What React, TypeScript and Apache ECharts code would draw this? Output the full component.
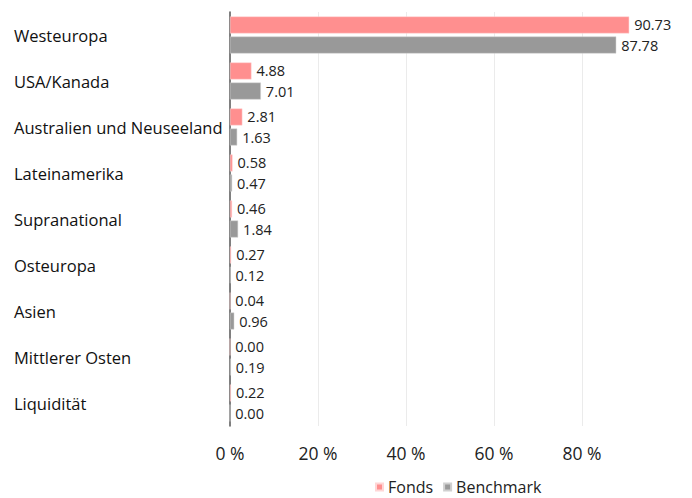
import React, { useEffect, useRef } from "react";
import * as echarts from "echarts";

const categories = [
  "Westeuropa",
  "USA/Kanada",
  "Australien und Neuseeland",
  "Lateinamerika",
  "Supranational",
  "Osteuropa",
  "Asien",
  "Mittlerer Osten",
  "Liquidität",
];
const fonds = [90.73, 4.88, 2.81, 0.58, 0.46, 0.27, 0.04, 0.0, 0.22];
const benchmark = [87.78, 7.01, 1.63, 0.47, 1.84, 0.12, 0.96, 0.19, 0.0];
const xTicks = [0, 20, 40, 60, 80, 100];

export default function App() {
  const ref = useRef<HTMLDivElement>(null);
  useEffect(() => {
    document.body.style.margin = "0";
    if (!ref.current) return;
    const chart = echarts.init(ref.current, null, { renderer: "svg" });
    const font = "'Open Sans', 'Noto Sans', sans-serif";
    const label = {
      show: true,
      position: "right" as const,
      distance: 5,
      color: "#222",
      fontSize: 14.5,
      fontFamily: font,
      formatter: (p: any) => Number(p.value).toFixed(2),
    };
    chart.setOption({
      animation: false,
      textStyle: { fontFamily: font },
      grid: { left: 230, right: 22, top: 12, bottom: 72 },
      legend: {
        bottom: -2,
        left: 370,
        itemWidth: 7,
        itemHeight: 7,
        itemGap: 10,
        icon: "rect",
        textStyle: { fontSize: 16, color: "#222", fontFamily: font },
        data: ["Fonds", "Benchmark"],
      },
      xAxis: {
        type: "value",
        min: xTicks[0],
        max: xTicks[xTicks.length - 1],
        interval: 20,
        axisLine: { show: false },
        axisTick: { show: false },
        axisLabel: {
          showMaxLabel: false,
          fontSize: 17.5,
          color: "#222",
          margin: 18,
          fontFamily: font,
          formatter: (v: number) => `${v} %`,
        },
        splitLine: {
          lineStyle: {
            color: ["transparent", "#ebebeb", "#ebebeb", "#ebebeb", "#ebebeb", "transparent"],
            width: 1,
          },
        },
      },
      yAxis: {
        type: "category",
        inverse: true,
        data: categories,
        axisLine: { show: true, lineStyle: { color: "#555", width: 1.5 } },
        axisTick: { show: false },
        axisLabel: {
          align: "left",
          margin: 216,
          fontSize: 16.5,
          color: "#111",
          fontFamily: font,
        },
      },
      series: [
        {
          name: "Fonds",
          type: "bar",
          data: fonds,
          barWidth: 17,
          barGap: "18%",
          itemStyle: { color: "#ff8f8f", borderColor: "#ffd6d6", borderWidth: 0.5 },
          label,
        },
        {
          name: "Benchmark",
          type: "bar",
          data: benchmark,
          barWidth: 17,
          itemStyle: { color: "#999999", borderColor: "#d0d0d0", borderWidth: 0.5 },
          label,
        },
      ],
    });
    return () => chart.dispose();
  }, []);
  return <div ref={ref} style={{ width: 692, height: 498 }} />;
}
